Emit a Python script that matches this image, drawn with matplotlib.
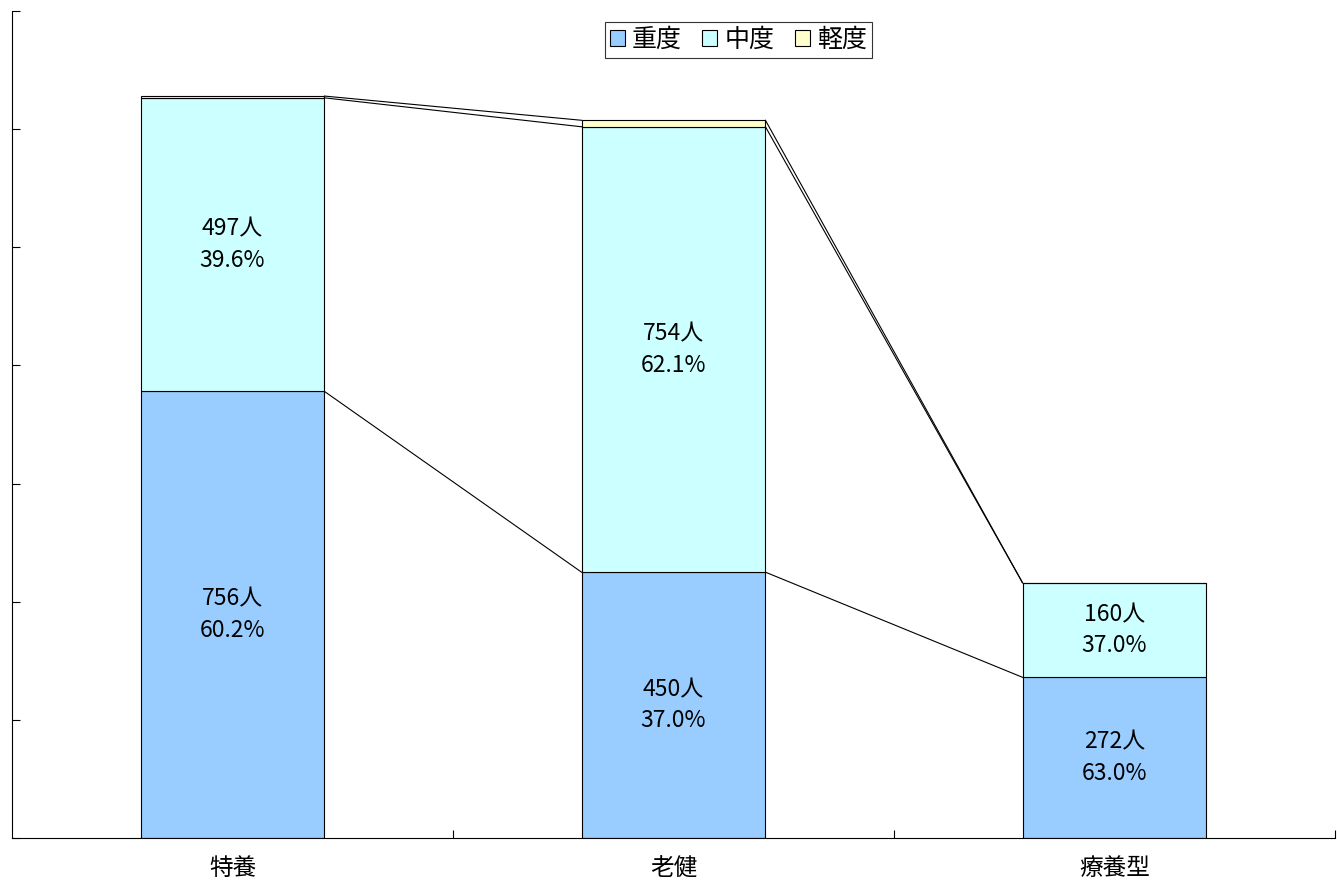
import matplotlib
matplotlib.use("Agg")
import matplotlib.pyplot as plt
import numpy as np

plt.rcParams['font.family'] = ['Noto Sans CJK JP', 'DejaVu Sans']

categories = ["特養", "老健", "療養型"]
series_names = ["重度", "中度", "軽度"]
severe = [756, 450, 272]
moderate = [497, 754, 160]
mild = [3, 11, 0]
colors = ["#99CCFF", "#CCFFFF", "#FFFFCC"]


def main():
    fig = plt.figure(figsize=(13.37, 8.85), dpi=100)
    ax = fig.add_axes([12 / 1337, 47 / 885, 1323 / 1337, 827 / 885])

    x = np.arange(len(categories))
    width = 0.417
    data = [np.array(severe), np.array(moderate), np.array(mild)]
    totals = data[0] + data[1] + data[2]

    bottom = np.zeros(len(categories))
    handles = []
    for name, vals, col in zip(series_names, data, colors):
        h = ax.bar(x, vals, width, bottom=bottom, color=col,
                   edgecolor="black", linewidth=0.8, label=name)
        handles.append(h)
        # 値ラベル（人数と割合）
        for i, v in enumerate(vals):
            if v >= 100:
                ax.text(x[i], bottom[i] + v / 2, f"{v}人\n{v / totals[i] * 100:.1f}%",
                        ha="center", va="center", fontsize=16.5, linespacing=1.45)
        bottom = bottom + vals
        # 系列線
        for i in range(len(categories) - 1):
            ax.plot([x[i] + width / 2, x[i + 1] - width / 2],
                    [bottom[i], bottom[i + 1]], color="black", linewidth=0.8)

    ax.set_xlim(-0.5, 2.5)
    ax.set_ylim(0, 1400)
    ax.set_yticks(np.arange(0, 1401, 200))
    ax.set_yticklabels([])
    ax.tick_params(axis="y", direction="in", length=6, width=0.8)

    ax.set_xticks(x)
    ax.set_xticklabels(categories, fontsize=17)
    ax.set_xticks([0.5, 1.5, 2.5], minor=True)
    ax.tick_params(axis="x", which="major", length=0, pad=14)
    ax.tick_params(axis="x", which="minor", direction="in", length=6, width=0.8)

    ax.spines["top"].set_visible(False)
    ax.spines["right"].set_visible(False)

    leg = ax.legend(handles=handles, loc="upper center", bbox_to_anchor=(0.549, 0.987),
                    ncol=3, fontsize=18, frameon=True, fancybox=False,
                    handlelength=0.6, handleheight=0.6, handletextpad=0.3,
                    columnspacing=0.8, borderpad=0.2, borderaxespad=0.0,
                    edgecolor="black")
    leg.get_frame().set_linewidth(0.8)

    fig.savefig("out.png", dpi=100)


if __name__ == "__main__":
    main()
